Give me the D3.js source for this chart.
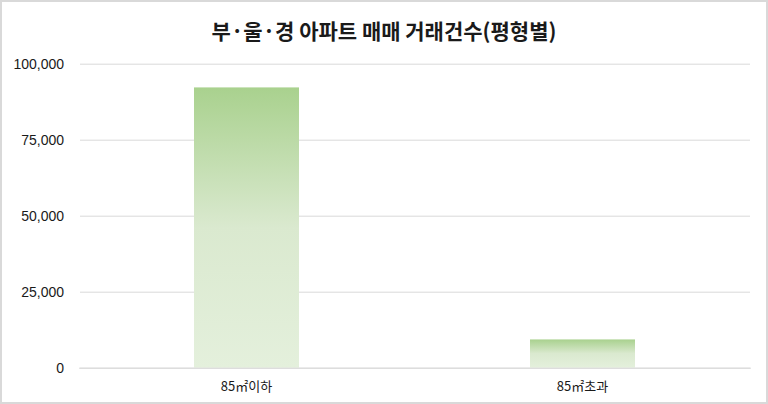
<!DOCTYPE html>
<html><head><meta charset="utf-8">
<script src="https://cdn.jsdelivr.net/npm/d3@7/dist/d3.min.js"></script>
<style>
html,body{margin:0;padding:0;background:#fff;}
svg{display:block;}
</style></head>
<body>
<script>
const title = "부·울·경 아파트 매매 거래건수(평형별)";
const categories = ["85㎡이하", "85㎡초과"];
const values = [92200, 9300];
const yTicks = [0, 25000, 50000, 75000, 100000];

const W = 768, H = 404;
const svg = d3.select("body").append("svg").attr("width", W).attr("height", H);

svg.append("rect").attr("x", 1).attr("y", 1).attr("width", W - 2).attr("height", H - 2)
  .attr("fill", "#fff").attr("stroke", "#d9d9d9").attr("stroke-width", 2);

const defs = svg.append("defs");
const grad = defs.append("linearGradient").attr("id", "g").attr("x1", 0).attr("y1", 0).attr("x2", 0).attr("y2", 1);
grad.append("stop").attr("offset", "0").attr("stop-color", "#a9d18e");
grad.append("stop").attr("offset", "0.5").attr("stop-color", "#dae9cf");
grad.append("stop").attr("offset", "1").attr("stop-color", "#e4f0dc");

const x = d3.scaleBand().domain(categories).range([78.5, 750.5]).paddingInner(0.6875).paddingOuter(0.34375);
const y = d3.scaleLinear().domain([0, 100000]).range([367.7, 63.7]);

svg.append("text").attr("x", 384).attr("y", 39).attr("text-anchor", "middle")
  .attr("font-family", "'Noto Sans CJK KR', sans-serif").attr("font-weight", 700)
  .attr("font-size", 21).attr("fill", "#1a1a1a").text(title);

const gy = svg.append("g").attr("transform", "translate(80,0)")
  .call(d3.axisLeft(y).tickValues(yTicks).tickSize(-670).tickPadding(16).tickFormat(d3.format(",")));
gy.select(".domain").remove();
gy.selectAll("line").attr("stroke", "#d9d9d9").attr("stroke-width", 1);
gy.selectAll("text").attr("font-family", "'Liberation Sans', Arial, sans-serif").attr("font-size", 14).attr("fill", "#1a1a1a");

svg.selectAll("rect.bar").data(values).enter().append("rect").attr("class", "bar")
  .attr("x", (d, i) => x(categories[i])).attr("width", x.bandwidth())
  .attr("y", d => y(d)).attr("height", d => y(0) - y(d)).attr("fill", "url(#g)");

const gx = svg.append("g").attr("transform", `translate(0,${y(0)})`)
  .call(d3.axisBottom(x).tickSize(0).tickPadding(14));
gx.select(".domain").attr("stroke", "#d9d9d9");
gx.selectAll("text").attr("font-family", "'Noto Sans CJK KR', sans-serif").attr("font-size", 13).attr("fill", "#1a1a1a");
</script>
</body></html>
